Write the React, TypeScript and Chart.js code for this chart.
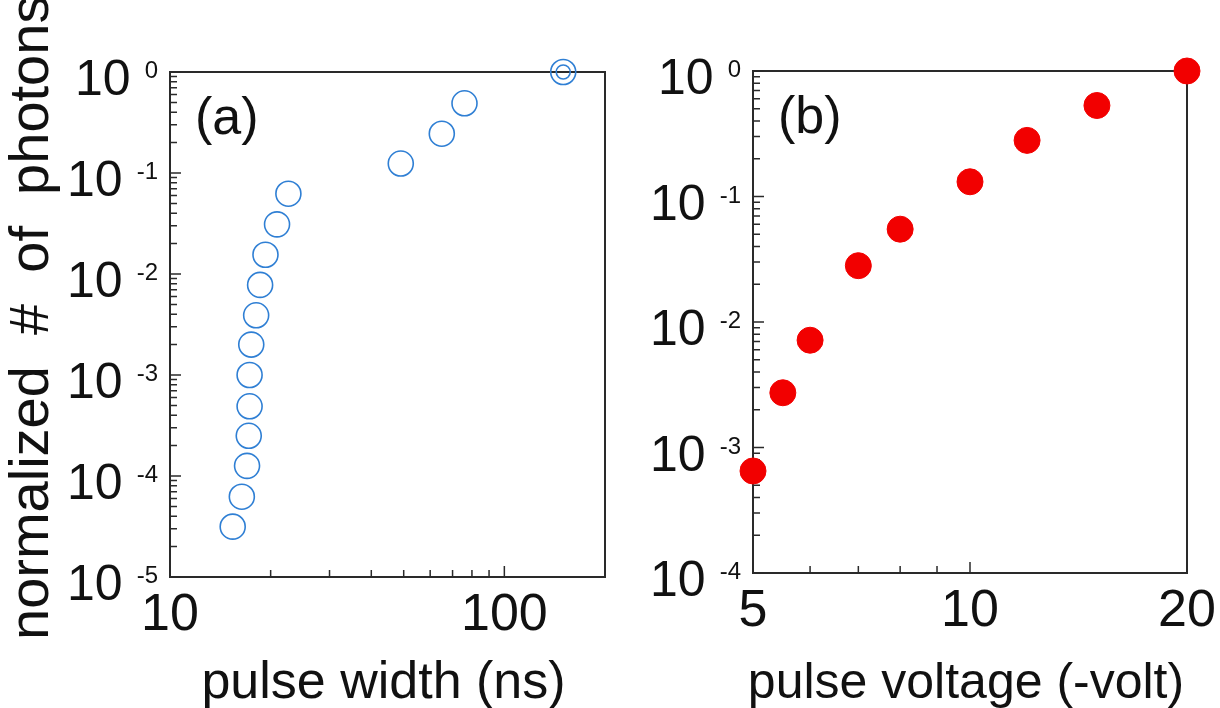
import React, { useEffect, useRef } from "react";
import { Chart, registerables } from "chart.js";

Chart.register(...registerables);

// ---- data ----
const pulseWidthNs = [150, 76, 65, 49, 22.6, 20.9, 19.3, 18.6, 18.1, 17.5, 17.3, 17.3, 17.2, 17.0, 16.4, 15.4];
const photonsA = [1, 0.49, 0.245, 0.124, 0.0624, 0.031, 0.0155, 0.0078, 0.0039, 0.002, 0.001, 0.00049, 0.00025, 0.000126, 0.0000624, 0.0000315];
const innerRingWidth = [150];
const innerRingPhotons = [1];

const pulseVoltage = [5, 5.5, 6, 7, 8, 10, 12, 15, 20];
const photonsB = [0.00065, 0.00273, 0.00716, 0.0281, 0.0549, 0.131, 0.28, 0.531, 1];

// ---- tick labels ----
const xLabelsA = [10, 100];
const xMinorA = [20, 30, 40, 50, 60, 70, 80, 90];
const yExponentsA = [0, -1, -2, -3, -4, -5];
const xLabelsB = [5, 10, 20];
const xMinorB = [6, 7, 8, 9];
const yExponentsB = [0, -1, -2, -3, -4];

const FONT = '"Liberation Sans", Arial, sans-serif';

type PanelCfg = {
  xLabels: number[];
  xMinor: number[];
  yExps: number[];
  panelLabel: string;
  xTitle: string;
  xTitleFont: number;
  yTitle?: string;
};

function decorPlugin(cfg: PanelCfg) {
  return {
    id: "decor",
    beforeDatasetsDraw(chart: any) {
      const ctx = chart.ctx as CanvasRenderingContext2D;
      const { left, right, top, bottom } = chart.chartArea;
      const xs = chart.scales.x;
      const ys = chart.scales.y;
      ctx.save();
      // frame
      ctx.strokeStyle = "#2a2a2a";
      ctx.lineWidth = 2;
      ctx.strokeRect(left, top, right - left, bottom - top);
      // y ticks (inward)
      ctx.lineWidth = 1.5;
      ctx.beginPath();
      const yMax = ys.max, yMin = ys.min;
      cfg.yExps.forEach((e) => {
        const base = Math.pow(10, e);
        const py = ys.getPixelForValue(base);
        ctx.moveTo(left, py);
        ctx.lineTo(left + 11, py);
        for (let m = 2; m <= 9; m++) {
          const v = m * base;
          if (v < yMax && v > yMin) {
            const p = ys.getPixelForValue(v);
            ctx.moveTo(left, p);
            ctx.lineTo(left + 7, p);
          }
        }
      });
      // x ticks (inward)
      cfg.xLabels.forEach((v) => {
        const px = xs.getPixelForValue(v);
        ctx.moveTo(px, bottom);
        ctx.lineTo(px, bottom - 11);
      });
      cfg.xMinor.forEach((v) => {
        const px = xs.getPixelForValue(v);
        ctx.moveTo(px, bottom);
        ctx.lineTo(px, bottom - 7);
      });
      ctx.stroke();

      ctx.fillStyle = "#111";
      // x tick labels
      ctx.font = `52px ${FONT}`;
      ctx.textAlign = "center";
      ctx.textBaseline = "alphabetic";
      cfg.xLabels.forEach((v) => {
        ctx.fillText(String(v), xs.getPixelForValue(v), bottom + 53);
      });
      // y tick labels 10^e
      cfg.yExps.forEach((e) => {
        const py = ys.getPixelForValue(Math.pow(10, e));
        ctx.font = `24px ${FONT}`;
        ctx.textAlign = "right";
        const expText = String(e);
        const w = ctx.measureText(expText).width;
        const expRight = left - 12;
        ctx.fillText(expText, expRight, py + 6);
        ctx.font = `50px ${FONT}`;
        ctx.fillText("10", expRight - w - 14, py + 23);
      });
      // panel label
      ctx.font = `52px ${FONT}`;
      ctx.textAlign = "left";
      ctx.fillText(cfg.panelLabel, left + 25, top + 62);
      // x title
      ctx.font = `${cfg.xTitleFont}px ${FONT}`;
      ctx.textAlign = "center";
      ctx.fillText(cfg.xTitle, (left + right) / 2 - 4, 698);
      // y title
      if (cfg.yTitle) {
        ctx.save();
        ctx.translate(48, 640);
        ctx.rotate(-Math.PI / 2);
        ctx.font = `56px ${FONT}`;
        ctx.textAlign = "left";
        ctx.fillText(cfg.yTitle, 0, 0);
        ctx.restore();
      }
      ctx.restore();
    },
  };
}

function makeOptions(xmin: number, xmax: number, ymin: number, ymax: number, padding: any) {
  return {
    responsive: false,
    animation: false as const,
    devicePixelRatio: 1,
    layout: { padding },
    plugins: { legend: { display: false }, tooltip: { enabled: false } },
    events: [],
    scales: {
      x: { type: "logarithmic" as const, min: xmin, max: xmax, display: false },
      y: { type: "logarithmic" as const, min: ymin, max: ymax, display: false },
    },
  };
}

export default function App() {
  const refA = useRef<HTMLCanvasElement>(null);
  const refB = useRef<HTMLCanvasElement>(null);

  useEffect(() => {
    const blue = "#2f7fd4";
    const red = "#f20000";
    const chartA = new Chart(refA.current!, {
      type: "scatter",
      data: {
        datasets: [
          {
            data: pulseWidthNs.map((x, i) => ({ x, y: photonsA[i] })),
            pointStyle: "circle",
            pointRadius: 12.5,
            pointBorderWidth: 1.6,
            borderColor: blue,
            backgroundColor: "rgba(0,0,0,0)",
            clip: false,
          } as any,
          {
            data: innerRingWidth.map((x, i) => ({ x, y: innerRingPhotons[i] })),
            pointStyle: "circle",
            pointRadius: 7,
            pointBorderWidth: 1.6,
            borderColor: blue,
            backgroundColor: "rgba(0,0,0,0)",
            clip: false,
          } as any,
        ],
      },
      options: makeOptions(10, 200, 1e-5, 1, { left: 170, top: 72, right: 15, bottom: 131 }) as any,
      plugins: [
        decorPlugin({
          xLabels: xLabelsA,
          xMinor: xMinorA,
          yExps: yExponentsA,
          panelLabel: "(a)",
          xTitle: "pulse width (ns)",
          xTitleFont: 52,
          yTitle: "normalized  #  of  photons",
        }),
      ],
    });
    const chartB = new Chart(refB.current!, {
      type: "scatter",
      data: {
        datasets: [
          {
            data: pulseVoltage.map((x, i) => ({ x, y: photonsB[i] })),
            pointStyle: "circle",
            pointRadius: 13,
            pointBorderWidth: 1,
            borderColor: red,
            backgroundColor: red,
            clip: false,
          } as any,
        ],
      },
      options: makeOptions(5, 20, 1e-4, 1, { left: 133, top: 71, right: 33, bottom: 135 }) as any,
      plugins: [
        decorPlugin({
          xLabels: xLabelsB,
          xMinor: xMinorB,
          yExps: yExponentsB,
          panelLabel: "(b)",
          xTitle: "pulse voltage (-volt)",
          xTitleFont: 50,
        }),
      ],
    });
    return () => {
      chartA.destroy();
      chartB.destroy();
    };
  }, []);

  return (
    <div style={{ position: "absolute", left: 0, top: 0, width: 1220, height: 708, background: "#fff", overflow: "hidden" }}>
      <canvas ref={refA} width={620} height={708} style={{ position: "absolute", left: 0, top: 0 }} />
      <canvas ref={refB} width={600} height={708} style={{ position: "absolute", left: 620, top: 0 }} />
    </div>
  );
}
